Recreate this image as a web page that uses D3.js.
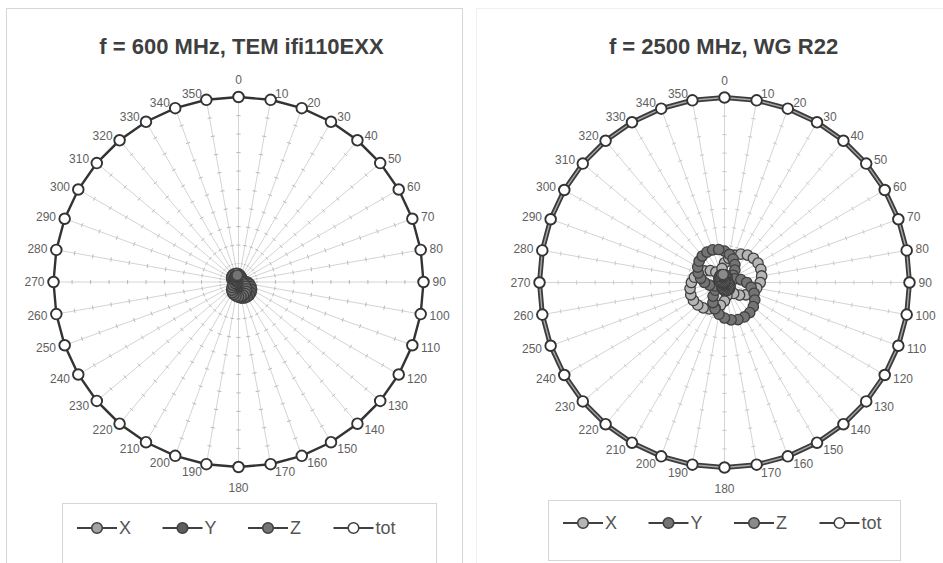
<!DOCTYPE html>
<html>
<head>
<meta charset="utf-8">
<script src="https://cdn.jsdelivr.net/npm/d3@7/dist/d3.min.js"></script>
<style>
  html, body { margin: 0; padding: 0; background: #ffffff; }
  svg { display: block; font-family: "Liberation Sans", Arial, sans-serif; }
</style>
</head>
<body>
<svg id="chart" width="943" height="563"></svg>
<script>
// Bearing of each measurement (degrees)
const angles = ["0","10","20","30","40","50","60","70","80","90","100","110",
                "120","130","140","150","160","170","180","190","200","210","220","230",
                "240","250","260","270","280","290","300","310","320","330","340","350"];

// Field components, 600 MHz in TEM cell
const x600 = [0.44,0.39,0.33,0.26,0.18,0.10,0.01,0.08,0.16,0.24,0.31,0.38,
              0.43,0.47,0.49,0.50,0.49,0.47,0.44,0.39,0.33,0.26,0.18,0.10,
              0.01,0.08,0.16,0.24,0.31,0.38,0.43,0.47,0.49,0.50,0.49,0.47];
const y600 = [0.28,0.25,0.21,0.17,0.12,0.07,0.04,0.18,0.33,0.48,0.61,0.72,
              0.82,0.88,0.92,0.93,0.92,0.88,0.82,0.72,0.61,0.48,0.33,0.18,
              0.04,0.07,0.12,0.17,0.21,0.25,0.28,0.30,0.32,0.32,0.32,0.30];
const z600 = [0.37,0.36,0.34,0.30,0.26,0.21,0.16,0.10,0.03,0.07,0.21,0.34,
              0.46,0.57,0.66,0.72,0.77,0.80,0.80,0.77,0.72,0.66,0.57,0.46,
              0.34,0.21,0.07,0.03,0.10,0.16,0.21,0.26,0.30,0.34,0.36,0.37];
const tot600 = [10,10,10,10,10,10,10,10,10,10,10,10,
                10,10,10,10,10,10,10,10,10,10,10,10,
                10,10,10,10,10,10,10,10,10,10,10,10];

// Field components, 2500 MHz in waveguide R22
const x2500 = [1.06,1.33,1.57,1.77,1.93,2.04,2.09,2.09,2.04,1.93,1.77,1.57,
               1.33,1.06,0.77,0.46,0.44,0.73,1.00,1.25,1.47,1.65,1.79,1.89,
               1.94,1.94,1.89,1.79,1.65,1.47,1.25,1.00,0.73,0.44,0.46,0.77];
const y2500 = [1.70,1.54,1.35,1.12,0.87,0.61,0.33,0.59,0.90,1.20,1.46,1.70,
               1.89,2.03,2.12,2.15,2.13,2.05,1.92,1.74,1.51,1.25,0.96,0.65,
               0.33,0.55,0.82,1.08,1.31,1.51,1.67,1.79,1.87,1.90,1.88,1.81];
const z2500 = [0.42,0.39,0.34,0.29,0.23,0.15,0.08,0.00,0.08,0.15,0.23,0.29,
               0.34,0.39,0.42,0.44,0.45,0.44,0.42,0.39,0.34,0.29,0.23,0.15,
               0.08,0.00,0.08,0.15,0.23,0.29,0.34,0.39,0.42,0.44,0.45,0.44];
const tot2500 = [10,10,10,10,10,10,10,10,10,10,10,10,
                 10,10,10,10,10,10,10,10,10,10,10,10,
                 10,10,10,10,10,10,10,10,10,10,10,10];

const seriesNames = ["X", "Y", "Z", "tot"];
const gridLevels = [1,2,3,4,5,6,7,8,9,10];
const valueMax = 10;

const svg = d3.select("#chart");

// Panel frames
svg.append("rect").attr("x", 6.5).attr("y", 8.5).attr("width", 456).attr("height", 570)
  .attr("fill", "none").attr("stroke", "#d6d6d6");
svg.append("rect").attr("x", 476.5).attr("y", 8.5).attr("width", 470).attr("height", 570)
  .attr("fill", "none").attr("stroke", "#f0f0f0");

function drawRadar(opt) {
  const g = svg.append("g").attr("transform", `translate(${opt.cx},${opt.cy})`);
  const R = 185;
  const r = d3.scaleLinear().domain([0, valueMax]).range([0, R]);
  const ang = d3.scalePoint().domain(angles).range([0, 360 - 360 / angles.length]);
  const rad = a => ang(a) * Math.PI / 180;
  const pt = (a, v) => [r(v) * Math.sin(rad(a)), -r(v) * Math.cos(rad(a))];

  // Spokes
  g.selectAll("line.spoke").data(angles).join("line").attr("class", "spoke")
    .attr("x1", 0).attr("y1", 0)
    .attr("x2", a => pt(a, valueMax)[0]).attr("y2", a => pt(a, valueMax)[1])
    .attr("stroke", "#d4d4d4").attr("stroke-width", 1);

  // Dashed gridline polygons: dash pattern restarts at every vertex,
  // leaving short ticks across each spoke
  gridLevels.forEach(lv => {
    angles.forEach((a, i) => {
      const b = angles[(i + 1) % angles.length];
      const p = pt(a, lv), q = pt(b, lv);
      const L = Math.hypot(q[0] - p[0], q[1] - p[1]);
      const d = L < 7 ? L * 0.3 : 2.1;
      g.append("line")
        .attr("x1", p[0]).attr("y1", p[1]).attr("x2", q[0]).attr("y2", q[1])
        .attr("stroke", opt.tickColor).attr("stroke-width", 1)
        .attr("stroke-dasharray", `${d} ${L - 2 * d} ${d}`);
    });
  });

  // Category labels
  angles.forEach(a => {
    const th = rad(a);
    const s = Math.sin(th), c = Math.cos(th);
    const m = pt(a, valueMax);
    let x = m[0], y = m[1], anchor = "middle";
    if (Math.abs(s) < 0.01) {
      y = c > 0 ? m[1] - 17 : m[1] + 21;
    } else {
      anchor = s > 0 ? "start" : "end";
      x = m[0] + Math.sign(s) * (3.5 + 5.5 * Math.abs(s));
      y = m[1] - c * (c > 0 ? 6 : 8);
    }
    g.append("text").attr("x", x).attr("y", y).attr("text-anchor", anchor)
      .attr("dominant-baseline", "central")
      .attr("font-size", 12).attr("fill", "#5f5f5f").text(a);
  });

  const line = d3.lineRadial()
    .angle((d, i) => rad(angles[i]))
    .radius(d => r(d))
    .curve(d3.curveLinearClosed);

  // Component series
  opt.series.forEach((s, k) => {
    if (s.name === "tot") {
      if (opt.doubleTot) {
        g.append("path").attr("d", line(s.values)).attr("fill", "none")
          .attr("stroke", "#3c3c3c").attr("stroke-width", 5);
        g.append("path").attr("d", line(s.values)).attr("fill", "none")
          .attr("stroke", "#a8a8a8").attr("stroke-width", 1.4);
      } else {
        g.append("path").attr("d", line(s.values)).attr("fill", "none")
          .attr("stroke", "#333333").attr("stroke-width", 2.4);
      }
    } else {
      g.append("path").attr("d", line(s.values)).attr("fill", "none")
        .attr("stroke", "#404040").attr("stroke-width", 1.5);
    }
    g.selectAll(null).data(s.values).join("circle")
      .attr("cx", (d, i) => pt(angles[i], d)[0])
      .attr("cy", (d, i) => pt(angles[i], d)[1])
      .attr("r", s.name === "tot" ? 5.3 : 5.2)
      .attr("fill", s.fill)
      .attr("stroke", s.name === "tot" ? "#333333" : "#404040")
      .attr("stroke-width", s.name === "tot" ? 1.9 : 1.3);
  });

  // Title
  svg.append("text").attr("x", opt.cx + opt.titleDx).attr("y", 54)
    .attr("text-anchor", "middle").attr("font-size", 22).attr("font-weight", "bold")
    .attr("fill", "#3f3f3f").text(opt.title);

  // Legend
  const lg = svg.append("g");
  lg.append("rect").attr("x", opt.legend.x + 0.5).attr("y", opt.legend.y + 0.5)
    .attr("width", opt.legend.w).attr("height", 60)
    .attr("fill", "none").attr("stroke", "#d6d6d6");
  opt.series.forEach((s, k) => {
    const x0 = opt.legend.x + opt.legend.first + k * 85.5;
    const yy = opt.legend.cy;
    lg.append("line").attr("x1", x0).attr("x2", x0 + 40).attr("y1", yy).attr("y2", yy)
      .attr("stroke", "#404040").attr("stroke-width", 2);
    lg.append("circle").attr("cx", x0 + 20).attr("cy", yy).attr("r", 5.3)
      .attr("fill", s.fill).attr("stroke", "#404040").attr("stroke-width", 1.6);
    lg.append("text").attr("x", x0 + 42).attr("y", yy).attr("dominant-baseline", "central")
      .attr("font-size", 18).attr("fill", "#555555").text(s.name);
  });
}

drawRadar({
  cx: 238.5, cy: 282, title: "f = 600 MHz, TEM ifi110EXX", titleDx: 3,
  doubleTot: false, tickColor: "#b8b8b8",
  legend: { x: 62, y: 503, w: 374, first: 15, cy: 528 },
  series: [
    { name: seriesNames[0], values: x600, fill: "#a3a3a3" },
    { name: seriesNames[1], values: y600, fill: "#5e5e5e" },
    { name: seriesNames[2], values: z600, fill: "#747474" },
    { name: seriesNames[3], values: tot600, fill: "#ffffff" }
  ]
});

drawRadar({
  cx: 724.5, cy: 282.5, title: "f = 2500 MHz, WG R22", titleDx: -1,
  doubleTot: true, tickColor: "#c8c8c8",
  legend: { x: 548, y: 500, w: 352, first: 15, cy: 523 },
  series: [
    { name: seriesNames[0], values: x2500, fill: "#b5b5b5" },
    { name: seriesNames[1], values: y2500, fill: "#747474" },
    { name: seriesNames[2], values: z2500, fill: "#8a8a8a" },
    { name: seriesNames[3], values: tot2500, fill: "#ffffff" }
  ]
});
</script>
</body>
</html>
